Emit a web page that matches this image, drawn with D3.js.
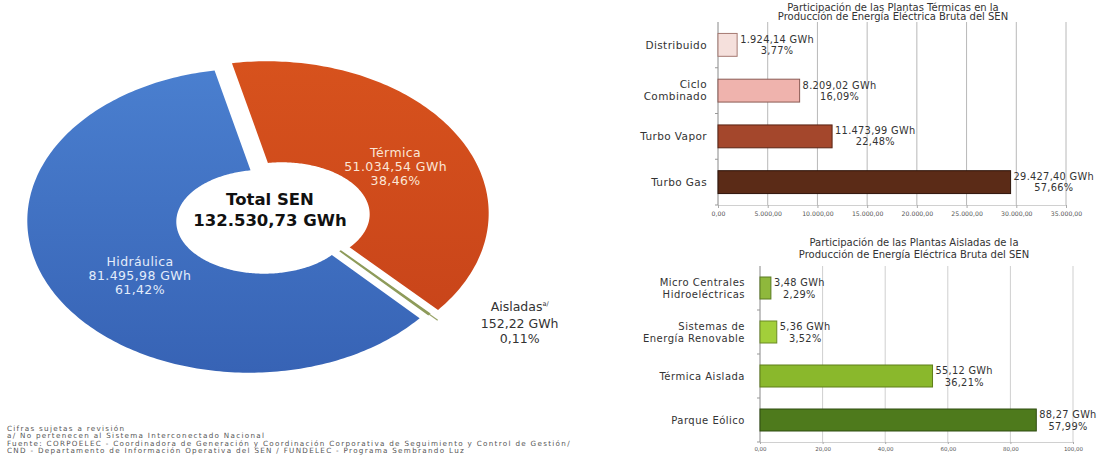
<!DOCTYPE html>
<html><head><meta charset="utf-8">
<script src="https://cdn.jsdelivr.net/npm/d3@7"></script>
<style>body{margin:0;background:#fff}svg{display:block}text{font-family:"DejaVu Sans",sans-serif}</style>
</head><body><svg id="c" width="1110" height="466"></svg>
<script>
// ---------- DATA ----------
const donutCategories = ["Térmica", "Aisladas", "Hidráulica"];
const donutValues = [51034.54, 152.22, 81495.98];
const donutPercents = ["38,46%", "0,11%", "61,42%"];
const donutTotalLabel = ["Total SEN", "132.530,73 GWh"];

const termCategories = ["Distribuido", "Ciclo\nCombinado", "Turbo Vapor", "Turbo Gas"];
const termValues = [1924.14, 8209.02, 11473.99, 29427.40];
const termPercents = ["3,77%", "16,09%", "22,48%", "57,66%"];
const termTicks = [0, 5000, 10000, 15000, 20000, 25000, 30000, 35000];
const termTitle = ["Participación de las Plantas Térmicas en la", "Producción de Energía Eléctrica Bruta del SEN"];

const aisCategories = ["Micro Centrales\nHidroeléctricas", "Sistemas de\nEnergía Renovable", "Térmica Aislada", "Parque Eólico"];
const aisValues = [3.48, 5.36, 55.12, 88.27];
const aisPercents = ["2,29%", "3,52%", "36,21%", "57,99%"];
const aisTicks = [0, 20, 40, 60, 80, 100];
const aisTitle = ["Participación de las Plantas Aisladas de la", "Producción de Energía Eléctrica Bruta del SEN"];

const footnotes = [
  "Cifras sujetas a revisión",
  "a/ No pertenecen al Sistema Interconectado Nacional",
  "Fuente: CORPOELEC - Coordinadora de Generación y Coordinación Corporativa de Seguimiento y Control de Gestión/",
  "CND - Departamento de Información Operativa del SEN / FUNDELEC - Programa Sembrando Luz"
];

// ---------- SETUP ----------
const svg = d3.select("#c");
const loc = d3.formatLocale({decimal: ",", thousands: ".", grouping: [3], currency: ["", ""]});
const f2 = loc.format(",.2f");
const deg = Math.PI / 180;

const defs = svg.append("defs");
function grad(id, c1, c2) {
  const g = defs.append("linearGradient").attr("id", id).attr("x1", 0).attr("y1", 0).attr("x2", 0).attr("y2", 1);
  g.append("stop").attr("offset", "0%").attr("stop-color", c1);
  g.append("stop").attr("offset", "100%").attr("stop-color", c2);
}
grad("gT", "#d7521d", "#c9451a");
grad("gH", "#4a7fcf", "#3763b5");

// ---------- DONUT ----------
const OUT = {cx: 258, cy: 217, rx: 222, ry: 152};
const INN = {cx: 273, cy: 218, rx: 88, ry: 52};
const explodeDist = d3.scaleOrdinal().domain(donutCategories).range([10, 0, 10]);
const donutFill = d3.scaleOrdinal().domain(donutCategories).range(["url(#gT)", "#8e9b5a", "url(#gH)"]);
const pie = d3.pie().sort(null).startAngle(-9 * deg).endAngle(351 * deg);
const arcsD = pie(donutValues).map((d, i) => Object.assign(d, {name: donutCategories[i], pct: donutPercents[i]}));

function pt(a, t, off) {
  const xo = OUT.cx + OUT.rx * Math.sin(a), yo = OUT.cy - OUT.ry * Math.cos(a);
  const xi = INN.cx + INN.rx * Math.sin(a), yi = INN.cy - INN.ry * Math.cos(a);
  return [xi + (xo - xi) * t + off[0], yi + (yo - yi) * t + off[1]];
}
function offsetOf(d) {
  const m = (d.startAngle + d.endAngle) / 2, e = explodeDist(d.name);
  return [e * Math.sin(m), -e * Math.cos(m) * 0.75];
}
function ringPath(d) {
  const off = offsetOf(d);
  const n = Math.max(2, Math.ceil((d.endAngle - d.startAngle) / deg));
  const angs = d3.range(n + 1).map(i => d.startAngle + (d.endAngle - d.startAngle) * i / n);
  const outer = angs.map(a => pt(a, 1, off));
  const inner = angs.slice().reverse().map(a => pt(a, 0, off));
  return d3.line()(outer.concat(inner)) + "Z";
}
const gD = svg.append("g");
gD.selectAll("path.slice").data(arcsD).join("path").attr("class", "slice")
  .attr("d", ringPath).attr("fill", d => donutFill(d.name))
  .attr("stroke", d => d.name === "Aisladas" ? "#8e9b5a" : "none").attr("stroke-width", 1.5);

// Aisladas leader
const ais = arcsD[1];
const aisMid = (ais.startAngle + ais.endAngle) / 2;
const l0 = pt(aisMid, 1, [0, 0]), l1 = pt(aisMid, 1.1, [0, 0]);
gD.append("line").attr("x1", l0[0]).attr("y1", l0[1]).attr("x2", l1[0]).attr("y2", l1[1])
  .attr("stroke", "#9aa56a").attr("stroke-width", 1.2);

// inner labels
const innerLabelColor = {"Térmica": "#fbe6d6", "Hidráulica": "#e3ecfa"};
const innerLabelNudge = {"Térmica": [-5, 0], "Hidráulica": [18, 4]};
arcsD.filter(d => d.name !== "Aisladas").forEach(d => {
  const m = (d.startAngle + d.endAngle) / 2;
  const p = pt(m, d.name === "Térmica" ? 0.42 : 0.5, offsetOf(d));
  const nd = innerLabelNudge[d.name];
  const t = gD.append("text").attr("text-anchor", "middle").attr("font-size", 12.5)
    .attr("fill", innerLabelColor[d.name]).attr("letter-spacing", 0.4);
  [d.name, f2(d.value) + " GWh", d.pct].forEach((s, k) =>
    t.append("tspan").attr("x", p[0] + nd[0]).attr("y", p[1] + nd[1] + (k - 1) * 14 + 4).text(s));
});
// Aisladas label
{
  const x = l1[0] + 82, y = l1[1] - 11;
  const t = gD.append("text").attr("text-anchor", "middle").attr("font-size", 12.5).attr("fill", "#333");
  const t1 = t.append("tspan").attr("x", x).attr("y", y + 2);
  t1.append("tspan").text(ais.name);
  t1.append("tspan").attr("font-size", 6.5).attr("dy", -5).text("a/");
  t.append("tspan").attr("x", x).attr("y", y + 19).text(f2(ais.value) + " GWh");
  t.append("tspan").attr("x", x).attr("y", y + 34).text(ais.pct);
}
// center
{
  const t = gD.append("text").attr("text-anchor", "middle").attr("font-size", 16.5).attr("font-weight", "bold").attr("fill", "#111");
  t.append("tspan").attr("x", 270).attr("y", 205).text(donutTotalLabel[0]);
  t.append("tspan").attr("x", 270).attr("y", 226).text(donutTotalLabel[1]);
}

// ---------- BAR CHARTS ----------
function bars(cfg) {
  const x = d3.scaleLinear().domain([0, d3.max(cfg.ticks)]).range([cfg.x0, cfg.x1]);
  const y = d3.scaleBand().domain(cfg.cats).range([cfg.top, cfg.bottom]).paddingInner(0.5).paddingOuter(0.25);
  const g = svg.append("g");
  // title
  const tt = g.append("text").attr("text-anchor", "middle").attr("font-size", cfg.titleFont).attr("fill", "#333");
  cfg.title.forEach((s, k) => tt.append("tspan").attr("x", cfg.titleX).attr("y", cfg.titleY + k * cfg.titleLH).text(s));
  // grid
  g.selectAll("line.grid").data(cfg.ticks.slice(1)).join("line").attr("class", "grid")
    .attr("x1", d => x(d)).attr("x2", d => x(d)).attr("y1", cfg.top).attr("y2", cfg.bottom)
    .attr("stroke", cfg.gridColor).attr("stroke-width", 1);
  // x axis
  const ax = g.append("g").attr("transform", `translate(0,${cfg.bottom})`)
    .call(d3.axisBottom(x).tickValues(cfg.ticks).tickFormat(f2).tickSize(cfg.tickSize).tickPadding(cfg.tickPad));
  ax.select(".domain").attr("stroke", "#d0d0d0");
  ax.selectAll(".tick line").attr("stroke", "#aaa");
  ax.selectAll(".tick text").attr("font-size", cfg.tickFont).attr("fill", "#555").attr("font-family", "DejaVu Sans");
  // y axis
  const ya = g.append("g").attr("transform", `translate(${cfg.x0},0)`)
    .call(d3.axisLeft(y).tickSize(0).tickFormat(""));
  ya.select(".domain").attr("stroke", "#888").attr("d", `M0,${cfg.top}V${cfg.bottom}`);
  const step = y.step();
  g.selectAll("line.yt").data(cfg.cats).join("line").attr("class", "yt")
    .attr("x1", cfg.x0 - 3).attr("x2", cfg.x0).attr("y1", d => y(d) + y.bandwidth() + (step - y.bandwidth()) / 2)
    .attr("y2", d => y(d) + y.bandwidth() + (step - y.bandwidth()) / 2).attr("stroke", "#999");
  // bars
  g.selectAll("rect.bar").data(cfg.vals).join("rect").attr("class", "bar")
    .attr("x", cfg.x0).attr("y", (d, i) => y(cfg.cats[i])).attr("width", d => x(d) - cfg.x0)
    .attr("height", y.bandwidth()).attr("fill", (d, i) => cfg.fills[i]).attr("stroke", (d, i) => cfg.strokes[i]).attr("stroke-width", 1);
  // category labels
  cfg.cats.forEach((c, i) => {
    const lines = c.split("\n");
    const cy = y(c) + y.bandwidth() / 2;
    const t = g.append("text").attr("text-anchor", "end").attr("font-size", cfg.catFont).attr("fill", "#333")
      .attr("letter-spacing", cfg.catLS);
    lines.forEach((s, k) => t.append("tspan").attr("x", cfg.x0 - cfg.catGap)
      .attr("y", cy + (k - (lines.length - 1) / 2) * cfg.catLH + cfg.catFont * 0.36).text(s));
  });
  // value labels
  cfg.vals.forEach((v, i) => {
    const cy = y(cfg.cats[i]) + y.bandwidth() / 2;
    const xs = x(v) + 3;
    const t1 = g.append("text").attr("font-size", cfg.valFont).attr("fill", "#333").attr("letter-spacing", cfg.valLS)
      .attr("x", xs).attr("y", cy - cfg.valLH / 2 + cfg.valFont * 0.36).text(f2(v) + " GWh");
    const w = t1.node().getComputedTextLength();
    g.append("text").attr("font-size", cfg.valFont).attr("fill", "#333").attr("text-anchor", "middle").attr("letter-spacing", cfg.valLS)
      .attr("x", xs + w / 2).attr("y", cy + cfg.valLH / 2 + cfg.valFont * 0.36).text(cfg.pcts[i]);
  });
}

bars({
  cats: termCategories, vals: termValues, pcts: termPercents, ticks: termTicks, title: termTitle,
  x0: 718, x1: 1066, top: 22, bottom: 205,
  titleX: 893, titleY: 10.5, titleLH: 9.8, titleFont: 10,
  gridColor: "#b8b8b8", tickSize: 3, tickPad: 4, tickFont: 6.2,
  catFont: 10.5, catLS: 0.4, catGap: 11, catLH: 12, valFont: 9.8, valLS: 0.3, valLH: 11,
  fills: ["#f5e0dc", "#efb3ad", "#a4472c", "#5b2b17"],
  strokes: ["#a57a72", "#8a5b54", "#5a2414", "#2e140a"]
});
bars({
  cats: aisCategories, vals: aisValues, pcts: aisPercents, ticks: aisTicks, title: aisTitle,
  x0: 760, x1: 1073, top: 266, bottom: 442,
  titleX: 914, titleY: 246, titleLH: 12, titleFont: 10,
  gridColor: "#cfcfcf", tickSize: 2, tickPad: 3, tickFont: 5.5,
  catFont: 10, catLS: 0.5, catGap: 15, catLH: 12, valFont: 9.8, valLS: 0.3, valLH: 12,
  fills: ["#8fb83c", "#a2cf3a", "#8ab82c", "#4e7a1c"],
  strokes: ["#5a7a20", "#6a8a25", "#5f7e18", "#2f4c10"]
});

// ---------- FOOTNOTES ----------
svg.append("g").selectAll("text").data(footnotes).join("text")
  .attr("x", 7).attr("y", (d, i) => 431 + i * 7.4).attr("font-size", 7.2).attr("letter-spacing", 1.3)
  .attr("fill", "#555").text(d => d);
</script>
</body></html>
